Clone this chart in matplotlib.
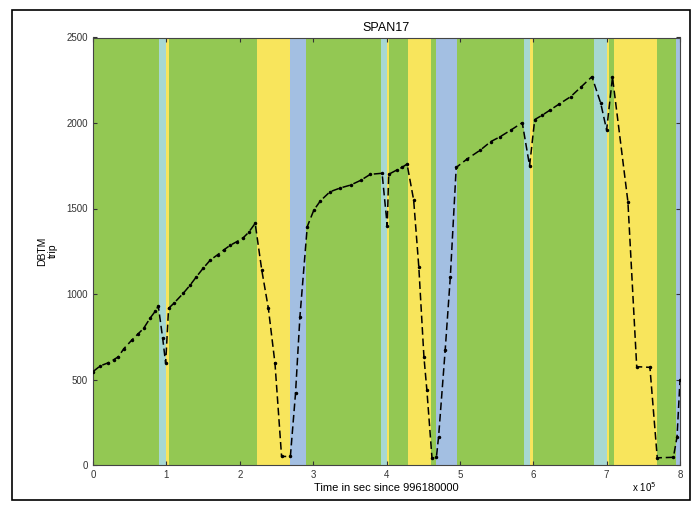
import matplotlib
matplotlib.use("Agg")
import matplotlib.pyplot as plt
from matplotlib.patches import Rectangle

plt.rcParams["font.family"] = ["Liberation Sans", "DejaVu Sans"]

# time axis in units of 1e5 s since 996180000
trip_x = [0, 0.10, 0.21, 0.28, 0.345, 0.42, 0.53, 0.61, 0.69, 0.78, 0.85, 0.89,
          0.95, 0.99, 1.03, 1.10, 1.23, 1.32, 1.41, 1.50, 1.60, 1.70, 1.78, 1.87,
          1.96, 2.05, 2.12, 2.21, 2.30, 2.39, 2.48, 2.57, 2.69, 2.76, 2.82, 2.92,
          3.01, 3.10, 3.23, 3.37, 3.51, 3.65, 3.78, 3.94, 4.01, 4.03, 4.14, 4.21,
          4.28, 4.37, 4.44, 4.51, 4.55, 4.62, 4.68, 4.71, 4.80, 4.87, 4.95, 5.10,
          5.28, 5.42, 5.55, 5.70, 5.85, 5.95, 6.02, 6.12, 6.23, 6.35, 6.51, 6.65,
          6.80, 6.92, 7.00, 7.08, 7.29, 7.41, 7.59, 7.69, 7.91, 7.96, 8.0]
trip_y = [546, 580, 598, 615, 633, 680, 731, 765, 799, 860, 900, 930,
          740, 595, 916, 945, 1004, 1050, 1101, 1150, 1199, 1230, 1257, 1285,
          1306, 1330, 1360, 1413, 1140, 916, 595, 50, 50, 419, 867, 1394,
          1491, 1545, 1598, 1620, 1637, 1665, 1700, 1706, 1398, 1700, 1725, 1740,
          1760, 1550, 1160, 633, 439, 40, 45, 166, 673, 1101, 1740, 1790,
          1842, 1891, 1920, 1960, 2002, 1750, 2020, 2045, 2076, 2110, 2154, 2210,
          2271, 2115, 1959, 2268, 1540, 575, 571, 42, 45, 166, 497]

# background state bands: start, end, state
band_start = [0, 0.90, 1.00, 1.03, 2.24, 2.68, 2.90, 3.93, 4.00, 4.03, 4.29, 4.60,
              4.68, 4.96, 5.87, 5.96, 6.00, 6.83, 7.00, 7.03, 7.10, 7.68, 7.94]
band_end = [0.90, 1.00, 1.03, 2.24, 2.68, 2.90, 3.93, 4.00, 4.03, 4.29, 4.60, 4.68,
            4.96, 5.87, 5.96, 6.00, 6.83, 7.00, 7.03, 7.10, 7.68, 7.94, 8.0]
band_state = ["g", "c", "y", "g", "y", "b", "g", "c", "y", "g", "y", "g",
              "b", "g", "c", "y", "g", "c", "y", "g", "y", "g", "b"]

state_color = {"g": "#93c853", "y": "#f8e55c", "c": "#a7d8d3", "b": "#a3bfe2"}

fig = plt.figure(figsize=(6.98, 5.09), dpi=100)
ax = fig.add_axes([93 / 698, 1 - 465 / 509, (680 - 93) / 698, (465 - 37.5) / 509])

for s, e, k in zip(band_start, band_end, band_state):
    ax.axvspan(s, e, color=state_color[k], lw=0, zorder=0)

ax.plot(trip_x, trip_y, color="black", lw=1.1, dashes=(5, 2.5),
        marker=".", markersize=3, zorder=3)

ax.set_xlim(0, 8)
ax.set_ylim(0, 2500)
ax.set_xticks(range(0, 9))
ax.set_yticks(range(0, 2501, 500))
ax.tick_params(direction="in", length=3, labelsize=7, top=True, right=True,
               colors="#333333")
for sp in ax.spines.values():
    sp.set_color("#444444")
    sp.set_linewidth(0.8)

ax.set_title("SPAN17", fontsize=9, pad=5)
ax.set_xlabel("Time in sec since 996180000", fontsize=8, labelpad=2)
ax.set_ylabel("DBTM\ntrip", fontsize=7.5, labelpad=6)
ax.text(0.918, -0.035, "x 10$^5$", transform=ax.transAxes, fontsize=7,
        ha="left", va="top")

fig.patches.append(Rectangle((12 / 698, 1 - 500 / 509), (690 - 12) / 698,
                             (500 - 10) / 509, transform=fig.transFigure,
                             fill=False, edgecolor="black", lw=1.2))

fig.savefig("out.png", dpi=100)
